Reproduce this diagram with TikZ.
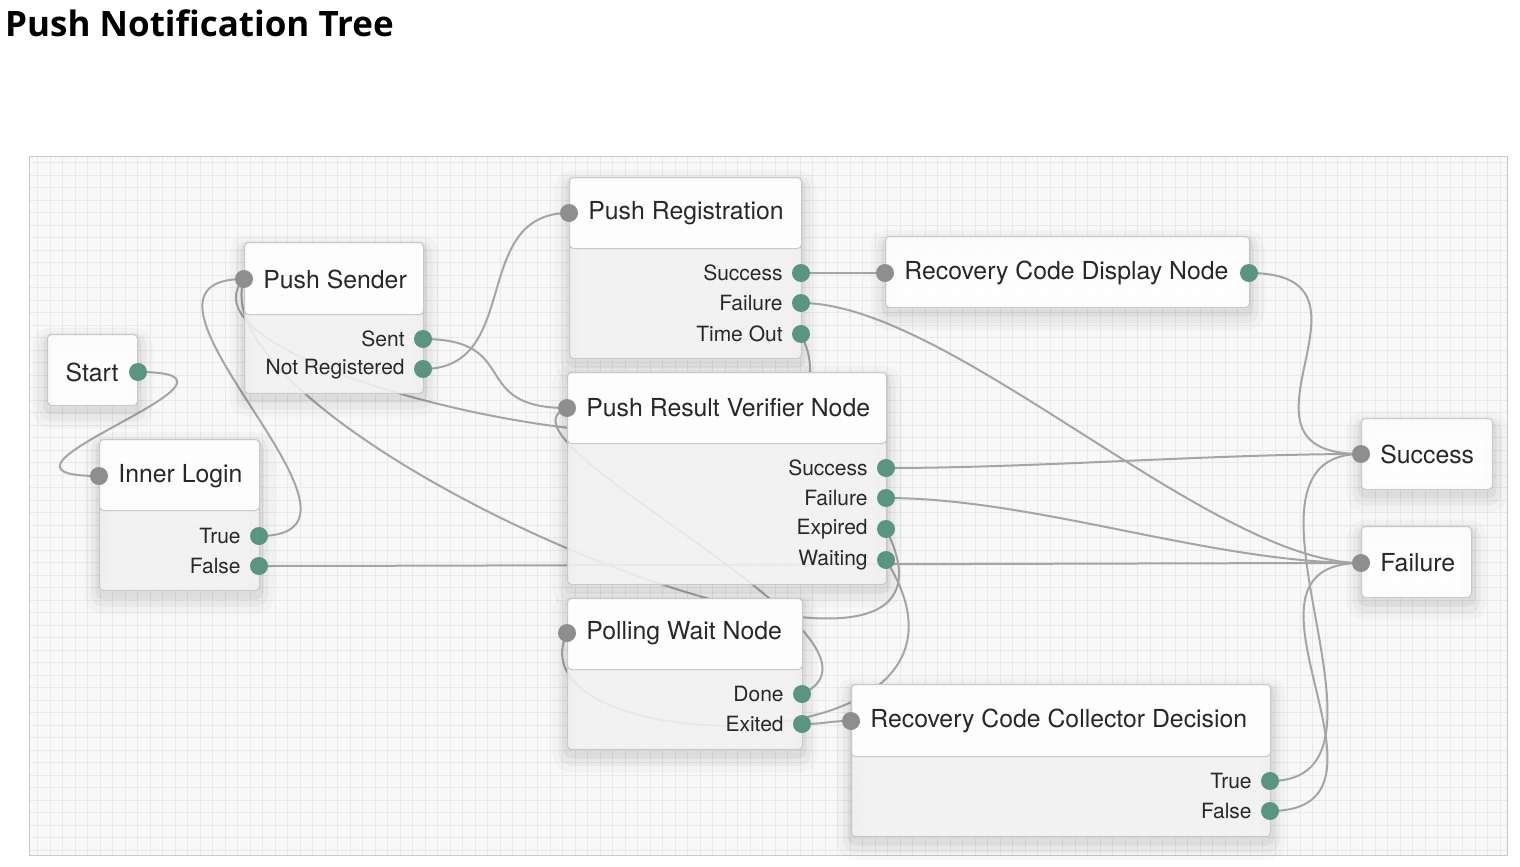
\documentclass[tikz,border=0pt]{standalone}
\usepackage{fontspec}
\setmainfont{TeX Gyre Heros}
\newfontfamily\titlefont{Open Sans}
\usetikzlibrary{positioning}
\definecolor{canvasbg}{RGB}{248,248,248}
\definecolor{gridcol}{RGB}{233,233,233}
\definecolor{boxline}{RGB}{200,200,200}
\definecolor{boxbody}{RGB}{242,242,242}
\definecolor{portin}{RGB}{142,142,142}
\definecolor{portout}{RGB}{90,148,131}
\definecolor{wirecol}{RGB}{165,165,165}
\definecolor{inkcol}{RGB}{40,40,40}
\pgfdeclarelayer{grid}
\pgfdeclarelayer{wires}
\pgfsetlayers{grid,wires,main}
\tikzset{
  soft shadow/.style={
    preaction={draw=black, draw opacity=0.025, fill=none, line width=30pt, transform canvas={yshift=-8pt}},
    preaction={draw=black, draw opacity=0.035, fill=none, line width=18pt, transform canvas={yshift=-7pt}},
    preaction={draw=black, draw opacity=0.05, fill=none, line width=8pt, transform canvas={yshift=-5pt}}},
  tree box/.style={soft shadow, draw=boxline, line width=1pt, fill=boxbody, fill opacity=0.88, rounded corners=4pt, anchor=north west, inner sep=0pt},
  head box/.style={draw=boxline, line width=1pt, fill=white, fill opacity=0.9, rounded corners=4pt, anchor=north west, inner sep=0pt},
  single box/.style={soft shadow, head box},
  in port/.style={circle, fill=portin, minimum size=18pt, inner sep=0pt},
  out port/.style={circle, fill=portout, minimum size=18pt, inner sep=0pt},
  head text/.style={font=\fontsize{24.8}{29}\selectfont, text=inkcol, inner sep=0pt, label distance=10pt},
  port text/.style={font=\fontsize{21}{25}\selectfont, text=inkcol, inner sep=0pt, label distance=9pt},
  wire/.style={draw=wirecol, line width=2pt},
}

\begin{document}
\begin{tikzpicture}[x=1pt,y=-1pt]
	\useasboundingbox (0,0) rectangle (1520,867);
	
	\node[anchor=base west, inner sep=0pt, font=\titlefont\bfseries\fontsize{35}{40}\selectfont] (title) at (5,37) {Push Notification Tree};
	
	\begin{pgfonlayer}{grid}
		\fill[canvasbg] (29,156) rectangle (1507,855);
		\draw[gridcol, line width=0.8pt, step=12.5pt] (29,156) grid (1507,855);
		\draw[boxline, line width=1pt] (29,156) rectangle (1507,855);
	\end{pgfonlayer}
	
	% start
	\node[single box, minimum width=90pt, minimum height=71pt] (start) at (47,334) {};
	\node[out port, label={[head text]left:Start}] (start-out) at (138,372) {};
	
	% inner login
	\node[tree box, minimum width=160pt, minimum height=151pt] (inner) at (99,439) {};
	\node[head box, minimum width=160pt, minimum height=71pt] (inner-h) at (99,439) {};
	\node[in port, label={[head text]right:Inner Login}] (inner-in) at (99,476) {};
	\node[out port, label={[port text]left:True}] (inner-true) at (259,536) {};
	\node[out port, label={[port text]left:False}] (inner-false) at (259,566) {};
	
	% push sender
	\node[tree box, minimum width=179pt, minimum height=151pt] (psend) at (244,242) {};
	\node[head box, minimum width=179pt, minimum height=72pt] (psend-h) at (244,242) {};
	\node[in port, label={[head text]right:Push Sender}] (psend-in) at (244,279) {};
	\node[out port, label={[port text]left:Sent}] (psend-sent) at (423,339) {};
	\node[out port, label={[port text]left:Not Registered}] (psend-notreg) at (423,369) {};
	
	% push registration
	\node[tree box, minimum width=232pt, minimum height=181pt] (preg) at (569,177) {};
	\node[head box, minimum width=232pt, minimum height=71pt] (preg-h) at (569,177) {};
	\node[in port, label={[head text]right:Push Registration}] (preg-in) at (569,213) {};
	\node[out port, label={[port text]left:Success}] (preg-ok) at (801,273) {};
	\node[out port, label={[port text]left:Failure}] (preg-fail) at (801,303) {};
	\node[out port, label={[port text]left:Time Out}] (preg-time) at (801,334) {};
	
	% push result verifier
	\node[tree box, minimum width=319pt, minimum height=212pt] (verif) at (567,372) {};
	\node[head box, minimum width=319pt, minimum height=71pt] (verif-h) at (567,372) {};
	\node[in port, label={[head text]right:Push Result Verifier Node}] (verif-in) at (567,408) {};
	\node[out port, label={[port text]left:Success}] (verif-ok) at (886,468) {};
	\node[out port, label={[port text]left:Failure}] (verif-fail) at (886,498) {};
	\node[out port, label={[port text]left:Expired}] (verif-exp) at (886,529) {};
	\node[out port, label={[port text]left:Waiting}] (verif-wait) at (886,560) {};
	
	% polling wait
	\node[tree box, minimum width=235pt, minimum height=151pt] (poll) at (567,598) {};
	\node[head box, minimum width=235pt, minimum height=71pt] (poll-h) at (567,598) {};
	\node[in port, label={[head text]right:Polling Wait Node}] (poll-in) at (567,633) {};
	\node[out port, label={[port text]left:Done}] (poll-done) at (802,694) {};
	\node[out port, label={[port text]left:Exited}] (poll-exit) at (802,724) {};
	
	% recovery code display
	\node[single box, minimum width=364pt, minimum height=71pt] (rcd) at (885,236) {};
	\node[in port, label={[head text]right:Recovery Code Display Node}] (rcd-in) at (885,273) {};
	\node[out port] (rcd-out) at (1249,273) {};
	
	% recovery code collector
	\node[tree box, minimum width=419pt, minimum height=152pt] (rcc) at (851,684) {};
	\node[head box, minimum width=419pt, minimum height=72pt] (rcc-h) at (851,684) {};
	\node[in port, label={[head text]right:Recovery Code Collector Decision}] (rcc-in) at (851,721) {};
	\node[out port, label={[port text]left:True}] (rcc-true) at (1270,781) {};
	\node[out port, label={[port text]left:False}] (rcc-false) at (1270,811) {};
	
	% outcomes
	\node[single box, minimum width=131pt, minimum height=71pt] (succ) at (1361,418) {};
	\node[in port, label={[head text]right:Success}] (succ-in) at (1361,454) {};
	\node[single box, minimum width=110pt, minimum height=71pt] (fail) at (1361,526) {};
	\node[in port, label={[head text]right:Failure}] (fail-in) at (1361,563) {};
	
	\begin{pgfonlayer}{wires}
		\draw[wire] (start-out.center) .. controls +(150,0) and +(-150,0) .. (inner-in.center);
		\draw[wire] (inner-true.center) .. controls +(150,0) and +(-150,0) .. (psend-in.center);
		\draw[wire] (inner-false.center) .. controls +(150,0) and +(-150,0) .. (fail-in.center);
		\draw[wire] (psend-sent.center) .. controls +(100,0) and +(-100,0) .. (verif-in.center);
		\draw[wire] (psend-notreg.center) .. controls +(100,0) and +(-100,0) .. (preg-in.center);
		\draw[wire] (preg-ok.center) .. controls +(40,0) and +(-40,0) .. (rcd-in.center);
		\draw[wire] (preg-fail.center) .. controls +(150,0) and +(-150,0) .. (fail-in.center);
		\draw[wire] (preg-time.center) .. controls +(99,206) and +(-94,101) .. (psend-in.center);
		\draw[wire] (rcd-out.center) .. controls +(150,0) and +(-150,0) .. (succ-in.center);
		\draw[wire] (verif-ok.center) .. controls +(150,0) and +(-150,0) .. (succ-in.center);
		\draw[wire] (verif-fail.center) .. controls +(150,0) and +(-150,0) .. (fail-in.center);
		\draw[wire] (verif-exp.center) .. controls +(125,251) and +(-54,161) .. (psend-in.center);
		\draw[wire] (verif-wait.center) .. controls +(135,215) and +(-60,127) .. (poll-in.center);
		\draw[wire] (poll-done.center) .. controls +(119,-54) and +(-87,32) .. (verif-in.center);
		\draw[wire] (poll-exit.center) .. controls +(25,0) and +(-25,0) .. (rcc-in.center);
		\draw[wire] (rcc-true.center) .. controls +(150,0) and +(-150,0) .. (succ-in.center);
		\draw[wire] (rcc-false.center) .. controls +(150,0) and +(-150,0) .. (fail-in.center);
	\end{pgfonlayer}
\end{tikzpicture}
\end{document}
